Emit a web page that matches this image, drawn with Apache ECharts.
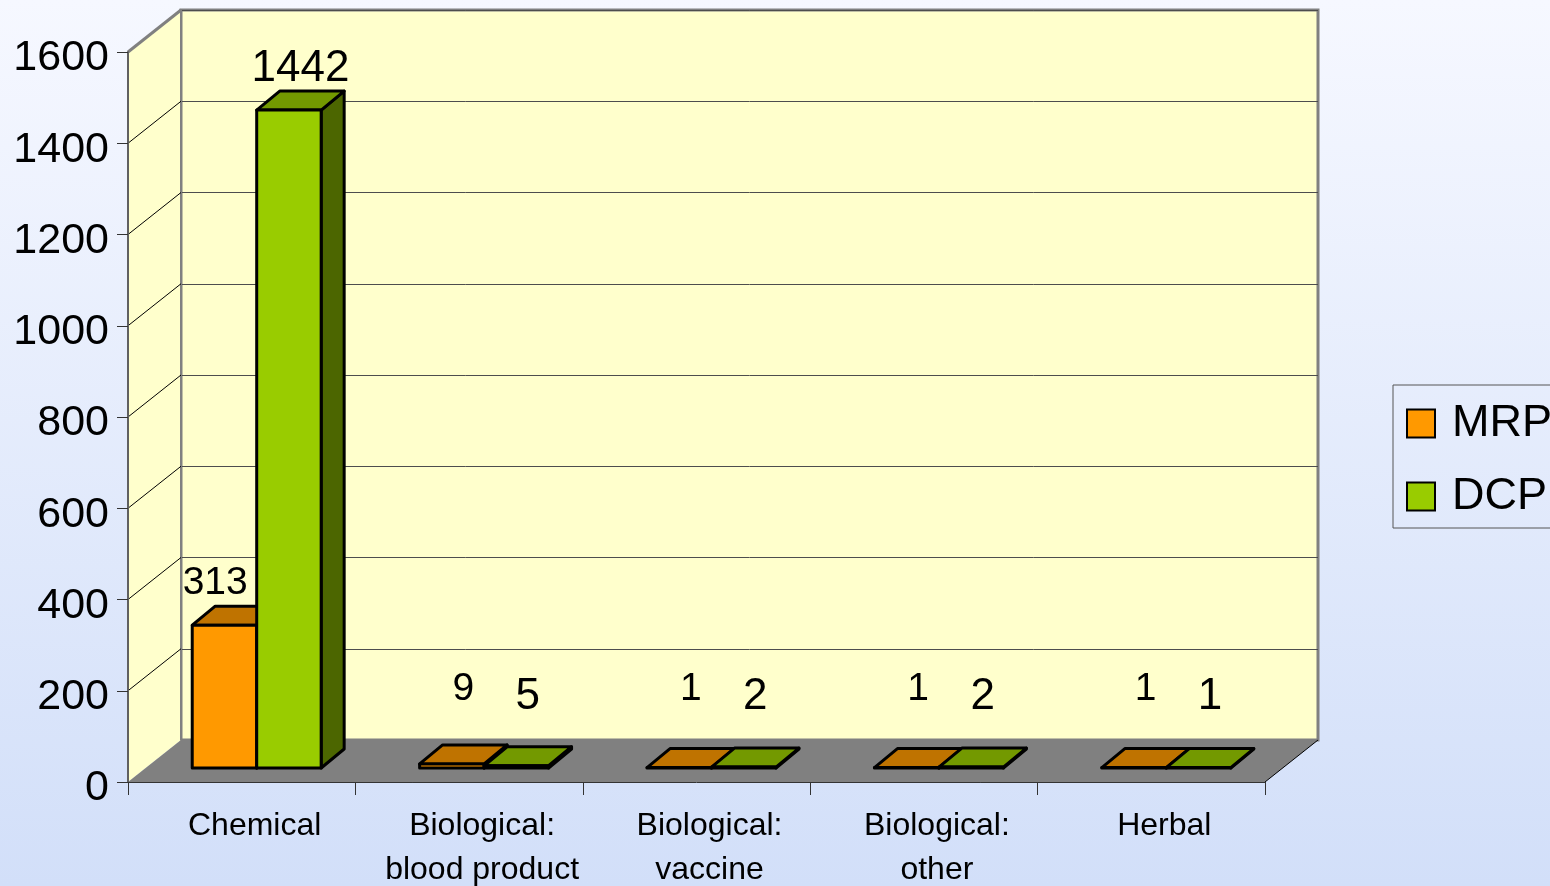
<!DOCTYPE html>
<html>
<head>
<meta charset="utf-8">
<script src="https://cdn.jsdelivr.net/npm/echarts@6/dist/echarts.min.js"></script>
<style>
  html, body { margin: 0; padding: 0; }
  #chart {
    width: 1550px;
    height: 886px;
    background: linear-gradient(to bottom, #F6F8FF 0%, #D2DFF9 100%);
  }
</style>
</head>
<body>
<div id="chart"></div>
<script>
// data
const categories = ['Chemical', 'Biological:\nblood product', 'Biological:\nvaccine', 'Biological:\nother', 'Herbal'];
const mrpValues = [313, 9, 1, 1, 1];
const dcpValues = [1442, 5, 2, 2, 1];
const yTicks = [0, 200, 400, 600, 800, 1000, 1200, 1400, 1600];

const FONT = '"Liberation Sans", Arial, sans-serif';
// depth of the 3D box (front plane -> back wall)
const DX = 53, DY = 42;
// depth of a single bar, and how far the bar sits behind the front plane
const BAR_DX = 23, BAR_DY = 19;
const INSET_X = 15, INSET_Y = 14;

const chart = echarts.init(document.getElementById('chart'), null, { renderer: 'canvas' });

// side walls + floor + the diagonal gridlines on the left wall
function renderWalls(params, api) {
  const cs = params.coordSys;
  const v = api.value(1);
  const y = api.coord([0, v])[1];
  const x = cs.x;
  const yb = cs.y + cs.height;
  const children = [];
  if (params.dataIndex === 0) {
    children.push({
      type: 'polygon',
      shape: { points: [[x, cs.y], [x + DX, cs.y - DY], [x + DX, yb - DY], [x, yb]] },
      style: { fill: '#FFFFCC' }
    });
    children.push({
      type: 'polygon',
      shape: { points: [[x, yb], [x + DX, yb - DY], [x + cs.width + DX, yb - DY], [x + cs.width, yb]] },
      style: { fill: '#808080' }
    });
    children.push({
      type: 'line',
      shape: { x1: x + cs.width, y1: yb, x2: x + cs.width + DX, y2: yb - DY },
      style: { stroke: '#000', lineWidth: 1 }
    });
    children.push({
      type: 'line',
      shape: { x1: x, y1: cs.y, x2: x + DX, y2: cs.y - DY },
      style: { stroke: '#808080', lineWidth: 3 }
    });
    children.push({
      type: 'line',
      shape: { x1: x + DX, y1: cs.y - DY, x2: x + DX, y2: yb - DY },
      style: { stroke: '#808080', lineWidth: 2 }
    });
  }
  if (v > yTicks[0] && v < yTicks[yTicks.length - 1]) {
    children.push({
      type: 'line',
      shape: { x1: x, y1: y, x2: x + DX, y2: y - DY },
      style: { stroke: '#000', lineWidth: 1 }
    });
  }
  return { type: 'group', children: children };
}

function makeBarRenderer(sIdx, faces, fontSize, topGap, floorGap) {
  return function (params, api) {
    const i = api.value(0);
    const v = api.value(1);
    const base = api.coord([i, 0]);
    const top = api.coord([i, v]);
    const band = api.size([1, 0])[0];
    const w = band * 0.2835;
    const cx = base[0] + INSET_X;
    const x0 = sIdx === 0 ? cx - w : cx;
    const x1 = x0 + w;
    const yb = base[1] - INSET_Y;
    const yt = top[1] - INSET_Y;
    const stroke = { stroke: '#000', lineWidth: 3, lineJoin: 'round' };

    const children = [
      {
        type: 'polygon',
        shape: { points: [[x1, yt], [x1 + BAR_DX, yt - BAR_DY], [x1 + BAR_DX, yb - BAR_DY], [x1, yb]] },
        style: Object.assign({ fill: faces.side }, stroke)
      },
      {
        type: 'polygon',
        shape: { points: [[x0, yt], [x0 + BAR_DX, yt - BAR_DY], [x1 + BAR_DX, yt - BAR_DY], [x1, yt]] },
        style: Object.assign({ fill: faces.top }, stroke)
      },
      {
        type: 'rect',
        shape: { x: x0, y: yt, width: w, height: yb - yt },
        style: Object.assign({ fill: faces.front }, stroke)
      }
    ];

    // value label
    const floorBack = base[1] - DY;
    let ly = Math.min(yt - BAR_DY - topGap, floorBack - floorGap);
    let lx = x0 + w / 2 + BAR_DX / 2;
    let align = 'center';
    if (sIdx === 0) {
      const otherTop = api.coord([i, dcpValues[i]])[1] - INSET_Y;
      const halfW = String(v).length * fontSize * 0.28;
      if (otherTop < ly && lx + halfW > x1 - 9) {
        lx = x1 - 9;
        align = 'right';
      }
    }
    children.push({
      type: 'text',
      style: {
        text: String(v),
        x: lx,
        y: ly,
        fill: '#000',
        fontSize: fontSize,
        fontFamily: FONT,
        align: align,
        verticalAlign: 'bottom'
      }
    });
    return { type: 'group', children: children };
  };
}

const option = {
  animation: false,
  backgroundColor: 'transparent',
  grid: [
    { left: 128, top: 52, width: 1137, height: 730, show: false, outerBoundsMode: 'none', containLabel: false },
    {
      left: 181, top: 10, width: 1137, height: 730, show: true, outerBoundsMode: 'none',
      backgroundColor: '#FFFFCC', borderColor: '#808080', borderWidth: 3
    }
  ],
  legend: {
    orient: 'vertical',
    left: 1393,
    top: 385,
    padding: [16, 30, 9, 13],
    borderColor: '#555',
    borderWidth: 1,
    itemWidth: 28,
    itemHeight: 28,
    itemGap: 28,
    icon: 'rect',
    itemStyle: { borderColor: '#000', borderWidth: 2 },
    textStyle: { fontSize: 45, fontFamily: FONT, color: '#000', padding: [0, 0, 0, 12] },
    data: ['MRP', 'DCP']
  },
  xAxis: [
    {
      type: 'category',
      gridIndex: 0,
      data: categories,
      z: 3,
      axisLine: { show: true, lineStyle: { color: '#333', width: 1 } },
      axisTick: { show: true, length: 13, interval: 0, lineStyle: { color: '#333' } },
      axisLabel: {
        interval: 0,
        fontSize: 32,
        fontFamily: FONT,
        color: '#000',
        lineHeight: 44,
        margin: 22,
        padding: [0, 0, 0, 26]
      }
    },
    { type: 'category', gridIndex: 1, data: categories, show: false }
  ],
  yAxis: [
    {
      type: 'value',
      gridIndex: 0,
      min: 0,
      max: 1600,
      interval: 200,
      z: 3,
      axisLine: { show: true, lineStyle: { color: '#606060', width: 2 } },
      axisTick: { show: true, length: 11, lineStyle: { color: '#333' } },
      axisLabel: {
        color: '#000',
        margin: 19,
        verticalAlign: 'middle',
        formatter: v => '{v|' + v + '}',
        rich: {
          v: { fontSize: 43, fontFamily: FONT, color: '#000', padding: [13, 0, 0, 0] }
        }
      },
      splitLine: { show: false }
    },
    {
      type: 'value',
      gridIndex: 1,
      min: 0,
      max: 1600,
      interval: 200,
      axisLine: { show: false },
      axisTick: { show: false },
      axisLabel: { show: false },
      splitLine: { show: true, lineStyle: { color: '#4d4d4d', width: 1 } }
    }
  ],
  series: [
    {
      type: 'custom',
      name: 'walls',
      xAxisIndex: 0,
      yAxisIndex: 0,
      z: 1,
      clip: false,
      silent: true,
      renderItem: renderWalls,
      data: yTicks.map(t => [0, t])
    },
    {
      type: 'custom',
      name: 'MRP',
      xAxisIndex: 0,
      yAxisIndex: 0,
      z: 4,
      clip: false,
      itemStyle: { color: '#FF9900' },
      renderItem: makeBarRenderer(0, { front: '#FF9900', top: '#BF7300', side: '#805000' }, 39, 3, 31),
      data: mrpValues.map((v, i) => [i, v])
    },
    {
      type: 'custom',
      name: 'DCP',
      xAxisIndex: 0,
      yAxisIndex: 0,
      z: 4,
      clip: false,
      itemStyle: { color: '#99CC00' },
      renderItem: makeBarRenderer(1, { front: '#99CC00', top: '#739900', side: '#4C6600' }, 44, 0, 21),
      data: dcpValues.map((v, i) => [i, v])
    }
  ]
};

chart.setOption(option);
</script>
</body>
</html>
